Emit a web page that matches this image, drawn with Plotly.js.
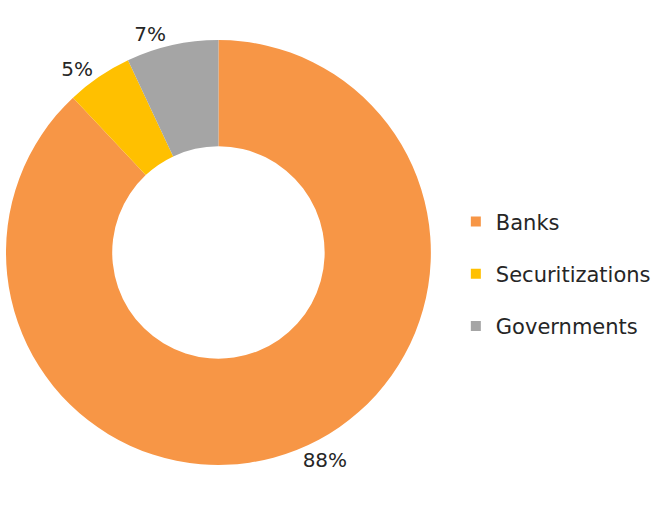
<!DOCTYPE html>
<html>
<head>
<meta charset="utf-8">
<script src="https://cdn.plot.ly/plotly-3.0.1.min.js"></script>
<style>html,body{margin:0;padding:0;background:#fff;}#chart{width:656px;height:507px;}</style>
</head>
<body>
<div id="chart"></div>
<script>
const categories = ["Banks", "Securitizations", "Governments"];
const shares = [88, 5, 7];
const sliceColors = ["#F79646", "#FFC000", "#A5A5A5"];

const FONT = "Century Gothic, DejaVu Sans, sans-serif";

const pie = {
  type: "pie",
  labels: categories,
  values: shares,
  hole: 0.5,
  sort: false,
  direction: "clockwise",
  rotation: 0,
  marker: {colors: sliceColors, line: {width: 0}},
  textposition: "outside",
  texttemplate: "%{percent:.0%}",
  outsidetextfont: {family: FONT, size: 20, color: "#262626"},
  showlegend: false,
  hoverinfo: "label+percent",
  domain: {x: [0.009, 0.659], y: [0.083, 0.921]}
};

const legendTraces = categories.map((c, i) => ({
  type: "scatter",
  mode: "markers",
  x: [null], y: [null],
  name: c,
  legendgroup: c,
  marker: {symbol: "square", size: 10, color: sliceColors[i]},
  showlegend: true,
  hoverinfo: "skip"
}));

const layout = {
  width: 656, height: 507,
  margin: {l: 0, r: 0, t: 0, b: 0},
  paper_bgcolor: "#ffffff",
  plot_bgcolor: "#ffffff",
  font: {family: FONT, color: "#262626"},
  xaxis: {visible: false},
  yaxis: {visible: false},
  showlegend: true,
  legend: {
    x: 0.697, y: 0.46, xanchor: "left", yanchor: "middle",
    font: {family: FONT, size: 21, color: "#262626"},
    traceorder: "grouped",
    tracegroupgap: 22,
    bgcolor: "rgba(0,0,0,0)"
  }
};

Plotly.newPlot("chart", [pie, ...legendTraces], layout, {displayModeBar: false, staticPlot: true});
</script>
</body>
</html>
